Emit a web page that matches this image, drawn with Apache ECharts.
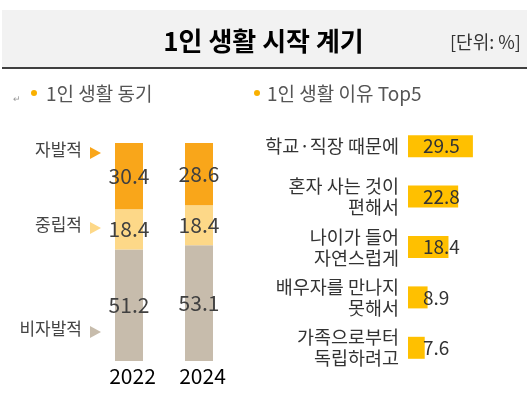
<!DOCTYPE html>
<html>
<head>
<meta charset="utf-8">
<script src="https://cdn.jsdelivr.net/npm/echarts@6/dist/echarts.min.js"></script>
<style>
  html, body { margin: 0; padding: 0; background: #fff; }
  #chart { width: 527px; height: 397px; }
</style>
</head>
<body>
<div id="chart"></div>
<script>
// left: 1인 생활 동기 (stacked, %)
const years = ['2022', '2024'];
const voluntary = [30.4, 28.6];
const neutral = [18.4, 18.4];
const involuntary = [51.2, 53.1];
const motiveNames = ['자발적', '중립적', '비자발적'];

// right: 1인 생활 이유 Top5 (%)
const reasons = [
  '학교·직장 때문에',
  '혼자 사는 것이\n편해서',
  '나이가 들어\n자연스럽게',
  '배우자를 만나지\n못해서',
  '가족으로부터\n독립하려고'
];
const reasonValues = [29.5, 22.8, 18.4, 8.9, 7.6];

const FONT = 'Noto Sans CJK KR';
const colors = ['#F9A61A', '#FDD888', '#C7BCAC'];
const gold = '#FFC000';

const chart = echarts.init(document.getElementById('chart'));

// side markers for the stacked bars (text + triangle)
const markerY = [153, 228, 332];
const markers = [];
motiveNames.forEach((name, i) => {
  markers.push({
    type: 'text', right: 527 - 82, top: markerY[i] - 12,
    style: { text: name, font: '17px "' + FONT + '"', fill: '#444', align: 'right' }
  });
  markers.push({
    type: 'polygon',
    shape: { points: [[90, markerY[i] - 6], [90, markerY[i] + 6], [101, markerY[i]]] },
    style: { fill: colors[i] }
  });
});

const segLabel = {
  show: true, position: 'inside', fontSize: 21, fontFamily: FONT, color: '#404040'
};

chart.setOption({
  animation: false,
  textStyle: { fontFamily: FONT },
  title: {
    text: '1인 생활 시작 계기',
    left: 'center', top: 23,
    textStyle: { fontSize: 26, fontWeight: 'bold', color: '#000', fontFamily: FONT }
  },
  graphic: [
    { type: 'rect', z: -10, shape: { x: 2, y: 10, width: 525, height: 57 }, style: { fill: '#F2F2F2' } },
    { type: 'line', shape: { x1: 2, y1: 68, x2: 527, y2: 68 }, style: { stroke: '#000', lineWidth: 1.5 } },
    { type: 'text', left: 450, top: 33, style: { text: '[단위: %]', font: '18px "' + FONT + '"', fill: '#333' } },
    { type: 'text', left: 13, top: 94, style: { text: '↵', font: '9px "' + FONT + '"', fill: '#999' } },
    { type: 'circle', shape: { cx: 34, cy: 93, r: 3 }, style: { fill: '#F9B000' } },
    { type: 'text', left: 46, top: 84, style: { text: '1인 생활 동기', font: '19px "' + FONT + '"', fill: '#555' } },
    { type: 'circle', shape: { cx: 257, cy: 93, r: 3 }, style: { fill: '#F9B000' } },
    { type: 'text', left: 267, top: 84, style: { text: '1인 생활 이유 Top5', font: '19px "' + FONT + '"', fill: '#555' } }
  ].concat(markers),
  grid: [
    { left: 94, width: 140, top: 143, height: 218 },
    { left: 408, width: 88, top: 121, height: 252 }
  ],
  xAxis: [
    {
      gridIndex: 0, type: 'category', data: years,
      axisLine: { show: false }, axisTick: { show: false },
      axisLabel: { margin: 5, fontSize: 21, color: '#000', fontFamily: FONT, padding: [0, 0, 0, 7] }
    },
    { gridIndex: 1, type: 'value', min: 0, max: 40, show: false }
  ],
  yAxis: [
    { gridIndex: 0, type: 'value', min: 0, max: 100, show: false },
    {
      gridIndex: 1, type: 'category', data: reasons, inverse: true,
      axisLine: { show: false }, axisTick: { show: false },
      axisLabel: {
        interval: 0, margin: 9, fontSize: 18.5, lineHeight: 21, color: '#333', fontFamily: FONT,
        padding: [0, 0, 10, 0]
      }
    }
  ],
  series: [
    {
      name: motiveNames[2], type: 'bar', stack: 'motive', barWidth: 28,
      xAxisIndex: 0, yAxisIndex: 0, data: involuntary,
      itemStyle: { color: colors[2] }, label: segLabel
    },
    {
      name: motiveNames[1], type: 'bar', stack: 'motive', barWidth: 28,
      xAxisIndex: 0, yAxisIndex: 0, data: neutral,
      itemStyle: { color: colors[1] }, label: segLabel
    },
    {
      name: motiveNames[0], type: 'bar', stack: 'motive', barWidth: 28,
      xAxisIndex: 0, yAxisIndex: 0, data: voluntary,
      itemStyle: { color: colors[0] }, label: segLabel
    },
    {
      name: '이유', type: 'bar', barWidth: 22,
      xAxisIndex: 1, yAxisIndex: 1, data: reasonValues,
      itemStyle: { color: gold },
      label: {
        show: true, position: 'insideLeft', distance: 15,
        fontSize: 19, fontFamily: FONT, color: '#333'
      }
    }
  ]
});
</script>
</body>
</html>
